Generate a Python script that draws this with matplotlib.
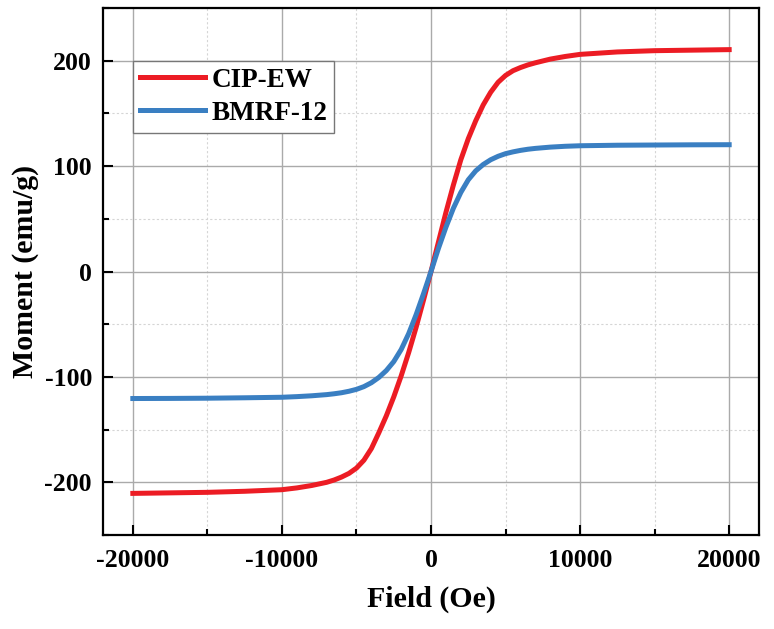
import numpy as np
import matplotlib.pyplot as plt
from matplotlib.ticker import MultipleLocator

plt.rcParams['font.family'] = ['Liberation Serif', 'DejaVu Serif']
plt.rcParams['font.weight'] = 'bold'
plt.rcParams['axes.unicode_minus'] = False

# field values (Oe)
field = [-20000, -17500, -15000, -12500, -10000, -9000, -8000, -7000, -6500, -6000,
         -5500, -5000, -4500, -4000, -3500, -3000, -2500, -2000, -1500, -1000,
         -500, 0, 500, 1000, 1500, 2000, 2500, 3000, 3500, 4000,
         4500, 5000, 5500, 6000, 6500, 7000, 8000, 9000, 10000, 12500,
         15000, 17500, 20000]

cip_ew = [-210.5, -210, -209.5, -208.5, -207, -205.3, -203, -200, -197.8, -195,
          -191.5, -186.5, -179, -168, -153, -137, -119, -99, -77, -53,
          -27, 0, 28, 56, 82, 106, 126, 143, 158, 170,
          179.5, 186, 190.5, 193.5, 196, 198, 201.5, 204, 206, 208.3,
          209.5, 210, 210.5]

bmrf_12 = [-120.5, -120.4, -120.2, -119.8, -119.3, -118.7, -117.9, -116.8, -116, -115,
           -113.6, -111.8, -109.2, -105.5, -100.5, -94, -85.5, -74, -59, -41,
           -21, 0, 22, 42, 60, 75, 87, 95.5, 101.5, 106,
           109.3, 111.8, 113.5, 114.9, 116, 116.8, 118, 118.8, 119.3, 119.8,
           120, 120.2, 120.3]

fig = plt.figure(figsize=(7.74, 6.29), dpi=100)
ax = fig.add_axes([0.1331, 0.1494, 0.8475, 0.8379])

ax.plot(field, cip_ew, color='#EC1C24', lw=3.6, label='CIP-EW')
ax.plot(field, bmrf_12, color='#3A7FC2', lw=3.6, label='BMRF-12')

ax.set_xlim(-22000, 22000)
ax.set_ylim(-250, 250)
ax.xaxis.set_major_locator(MultipleLocator(10000))
ax.xaxis.set_minor_locator(MultipleLocator(5000))
ax.yaxis.set_major_locator(MultipleLocator(100))
ax.yaxis.set_minor_locator(MultipleLocator(50))

ax.grid(which='major', color='#aaaaaa', lw=1.0, ls='-')
ax.grid(which='minor', color='#d5d5d5', lw=0.8, ls=(0, (2, 2)))
ax.set_axisbelow(True)

ax.tick_params(which='major', direction='in', length=7, width=1.5, labelsize=18.5, pad=8)
ax.tick_params(which='minor', direction='in', length=4, width=1.5)
ax.tick_params(axis='x', which='major', pad=10)
for s in ax.spines.values():
    s.set_linewidth(1.6)

ax.set_xlabel('Field (Oe)', fontsize=21.5, fontweight='bold', labelpad=10)
ax.set_ylabel('Moment (emu/g)', fontsize=21.5, fontweight='bold', labelpad=4)

leg = ax.legend(loc='upper left', bbox_to_anchor=(0.0457, 0.8994), borderaxespad=0,
                fontsize=19.5, handlelength=2.4, handletextpad=0.25, borderpad=0.25,
                labelspacing=0.3, fancybox=False, framealpha=1)
leg.get_frame().set_edgecolor('#777777')
leg.get_frame().set_linewidth(1.0)

fig.savefig('out.png', dpi=100)
